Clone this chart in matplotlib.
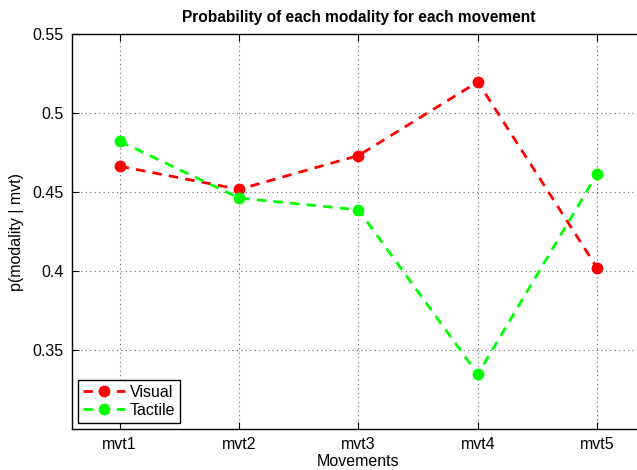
# -*- coding: utf-8 -*-
import numpy as np
import matplotlib.pyplot as plt

plt.rcParams['font.family'] = ['Liberation Sans', 'DejaVu Sans']

movements = ['mvt1', 'mvt2', 'mvt3', 'mvt4', 'mvt5']
p_visual = [0.4663, 0.4517, 0.4731, 0.5197, 0.4019]
p_tactile = [0.4821, 0.4462, 0.4387, 0.3347, 0.4616]

x = np.arange(1, len(movements) + 1)

fig = plt.figure(figsize=(6.37, 4.70), dpi=100)
ax = fig.add_axes([0.113, 0.0872, 0.8995, 0.8404])

ax.plot(x, p_visual, '--o', color=(1, 0, 0), lw=2.0, ms=7.5, dashes=(3.4, 2.6), label='Visual')
ax.plot(x, p_tactile, '--o', color=(0, 1, 0), lw=2.0, ms=7.5, dashes=(3.4, 2.6), label='Tactile')

ax.set_xlim(0.6, 5.4)
ax.set_ylim(0.3, 0.55)
ax.set_xticks(x)
ax.set_xticklabels(movements)
ax.set_yticks([0.35, 0.4, 0.45, 0.5, 0.55])
ax.set_yticklabels(['0.35', '0.4', '0.45', '0.5', '0.55'])
ax.tick_params(direction='in', length=5, width=0.8, labelsize=11.5, pad=6,
               top=True, right=False)
ax.grid(True, linestyle=(0, (1, 3)), color='#666666', lw=0.8)
for s in ax.spines.values():
    s.set_linewidth(1.0)
ax.spines['right'].set_visible(False)

ax.set_title('Probability of each modality for each movement', fontsize=11.2, fontweight='bold', pad=9)
ax.set_xlabel('Movements', fontsize=11.5, labelpad=1)
ax.set_ylabel('p(modality | mvt)', fontsize=11.5, labelpad=6)

leg = ax.legend(loc='lower left', fontsize=11.5, fancybox=False, framealpha=1,
                edgecolor='black', borderaxespad=0.4, handlelength=2.6,
                handletextpad=0.3, borderpad=0.3, labelspacing=0.2)
leg.get_frame().set_linewidth(1.0)

fig.savefig('out.png', dpi=100)
